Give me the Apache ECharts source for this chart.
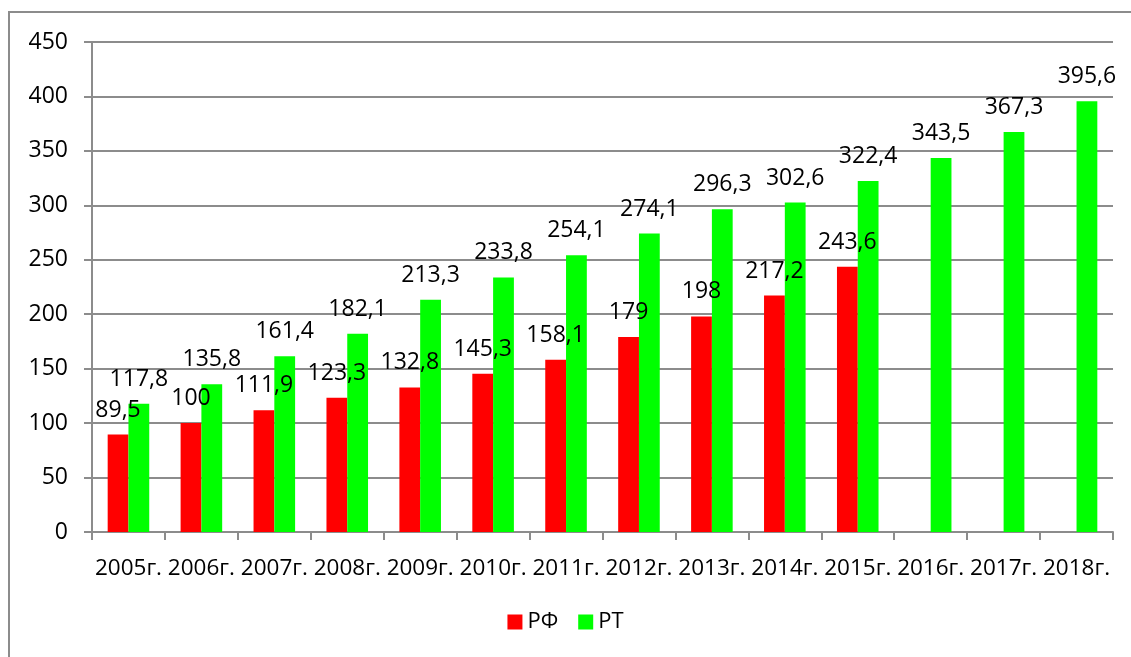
<!DOCTYPE html>
<html>
<head>
<meta charset="utf-8">
<script src="https://cdn.jsdelivr.net/npm/echarts@6/dist/echarts.min.js"></script>
<style>
  html, body { margin: 0; padding: 0; background: #fff; }
  #main { width: 1131px; height: 657px; }
</style>
</head>
<body>
<div id="main"></div>
<script>
// Годы
const years = ['2005г.', '2006г.', '2007г.', '2008г.', '2009г.', '2010г.', '2011г.',
               '2012г.', '2013г.', '2014г.', '2015г.', '2016г.', '2017г.', '2018г.'];
// РФ
const rfValues = [89.5, 100, 111.9, 123.3, 132.8, 145.3, 158.1, 179, 198, 217.2, 243.6, null, null, null];
// РТ
const rtValues = [117.8, 135.8, 161.4, 182.1, 213.3, 233.8, 254.1, 274.1, 296.3, 302.6, 322.4, 343.5, 367.3, 395.6];

const font = '"Open Sans", sans-serif';

function fmt(p) {
    return String(p.value).replace('.', ',');
}

const labelStyle = {
    show: true,
    position: 'top',
    distance: 13,
    fontFamily: font,
    fontSize: 23,
    color: '#000',
    formatter: fmt
};

let chart = echarts.init(document.getElementById('main'), null, { renderer: 'canvas' });

const option = {
    animation: false,
    textStyle: { fontFamily: font },
    graphic: [{
        type: 'rect',
        shape: { x: 9, y: 12, width: 1300, height: 900 },
        style: { fill: 'none', stroke: '#8c8c8c', lineWidth: 2 },
        silent: true
    }],
    grid: { left: 92, right: 18, top: 42, bottom: 125 },
    legend: {
        bottom: 19,
        left: 'center',
        itemWidth: 15,
        itemHeight: 15,
        itemGap: 20,
        icon: 'rect',
        textStyle: { fontFamily: font, fontSize: 22, color: '#000' },
        data: ['РФ', 'РТ']
    },
    xAxis: {
        type: 'category',
        data: years,
        axisLine: { lineStyle: { color: '#8c8c8c', width: 2 } },
        axisTick: { show: true, length: 8, lineStyle: { color: '#8c8c8c', width: 2 } },
        axisLabel: { fontFamily: font, fontSize: 22.5, color: '#000', margin: 25, interval: 0 }
    },
    yAxis: {
        type: 'value',
        min: 0,
        max: 450,
        interval: 50,
        axisLine: { show: true, lineStyle: { color: '#8c8c8c', width: 2 } },
        axisTick: { show: true, length: 8, lineStyle: { color: '#8c8c8c', width: 2 } },
        axisLabel: { fontFamily: font, fontSize: 23, color: '#000', margin: 24 },
        splitLine: { lineStyle: { color: '#8c8c8c', width: 2 } }
    },
    series: [
        {
            name: 'РФ',
            type: 'bar',
            data: rfValues,
            barGap: '0%',
            barCategoryGap: '43%',
            itemStyle: { color: '#ff0000' },
            label: labelStyle
        },
        {
            name: 'РТ',
            type: 'bar',
            data: rtValues,
            barGap: '0%',
            barCategoryGap: '43%',
            itemStyle: { color: '#00ff00' },
            label: labelStyle
        }
    ]
};

chart.setOption(option);
</script>
</body>
</html>
